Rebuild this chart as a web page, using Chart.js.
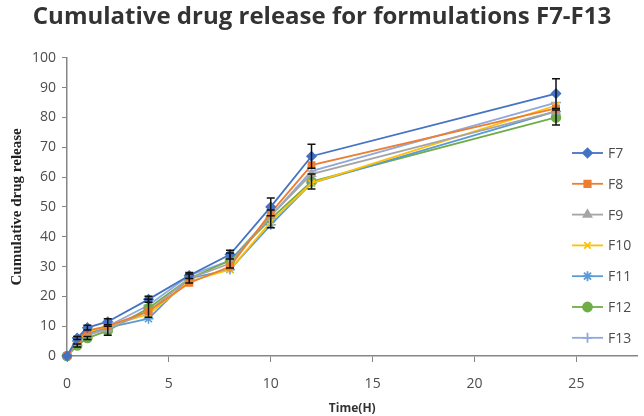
<!DOCTYPE html>
<html>
<head>
<meta charset="utf-8">
<script src="https://cdn.jsdelivr.net/npm/chart.js@4"></script>
<style>
  html, body { margin: 0; padding: 0; background: #fff; }
  #wrap { width: 644px; height: 416px; position: relative; }
</style>
</head>
<body>
<div id="wrap"><canvas id="chart"></canvas></div>
<script>
// Cumulative drug release, F7-F13.

const TIME = [0, 0.5, 1, 2, 4, 6, 8, 10, 12, 24];

const F7  = [0, 6,   9.5, 11.5, 19,   27,   34, 50, 67,   88];
const F8  = [0, 5.5, 8.5, 10,   15,   24.5, 30, 48, 64,   83];
const F9  = [0, 4.5, 7,   9,    15,   26,   31, 47, 61,   82];
const F10 = [0, 5,   8,   10,   14,   25,   29, 45, 58,   84];
const F11 = [0, 5,   7.5, 9.5,  12.5, 26,   29, 44, 58,   82];
const F12 = [0, 3.5, 6,   8.5,  16,   26,   32, 46, 58.5, 80];
const F13 = [0, 5,   8,   10,   17,   27,   32, 47, 62,   85];

// error bars (symmetric) shown on F7 and F12
const F7_ERR  = [0, 0.5, 0.8, 1,   1, 1,   1.5, 3, 4,   5];
const F12_ERR = [0, 0.5, 0.5, 1.5, 3, 1.5, 2.5, 3, 2.5, 2.5];

const Y_TICKS = [0, 10, 20, 30, 40, 50, 60, 70, 80, 90, 100];
const X_TICKS = [0, 5, 10, 15, 20, 25];

const SERIES = [
  { label: 'F7',  data: F7,  color: '#4472c4', style: 'rectRot',  r: 4.5, err: F7_ERR },
  { label: 'F8',  data: F8,  color: '#ed7d31', style: 'rect',     r: 4.5 },
  { label: 'F9',  data: F9,  color: '#a5a5a5', style: 'triangle', r: 4.5 },
  { label: 'F10', data: F10, color: '#ffc000', style: 'crossRot', r: 4.5 },
  { label: 'F11', data: F11, color: '#5b9bd5', style: 'star',     r: 5 },
  { label: 'F12', data: F12, color: '#70ad47', style: 'circle',   r: 4.5, err: F12_ERR },
  { label: 'F13', data: F13, color: '#8fa9dc', style: 'cross',    r: 5 },
];

const TEXT = '#4d4d4d';
const AXIS = '#868686';

// vertical error bars with caps, drawn through the scales
const errorBars = {
  id: 'errorBars',
  afterDatasetsDraw(chart) {
    const { ctx, scales: { x, y } } = chart;
    ctx.save();
    ctx.strokeStyle = '#111';
    ctx.lineWidth = 1.5;
    chart.data.datasets.forEach(ds => {
      if (!ds.errors) return;
      ds.data.forEach((p, i) => {
        const e = ds.errors[i];
        if (!e) return;
        const px = x.getPixelForValue(p.x);
        const top = y.getPixelForValue(p.y + e);
        const bot = y.getPixelForValue(p.y - e);
        ctx.beginPath();
        ctx.moveTo(px, top); ctx.lineTo(px, bot);
        ctx.moveTo(px - 4, top); ctx.lineTo(px + 4, top);
        ctx.moveTo(px - 4, bot); ctx.lineTo(px + 4, bot);
        ctx.stroke();
      });
    });
    ctx.restore();
  },
};

// legend floating inside the plot, bottom right, Excel style
const innerLegend = {
  id: 'innerLegend',
  afterDraw(chart) {
    const { ctx } = chart;
    ctx.save();
    ctx.font = '14px "Open Sans"';
    ctx.textBaseline = 'middle';
    chart.data.datasets.forEach((ds, i) => {
      const cy = 153 + i * 30.8;
      ctx.strokeStyle = ds.borderColor;
      ctx.lineWidth = 1.8;
      ctx.beginPath();
      ctx.moveTo(572, cy); ctx.lineTo(603, cy);
      ctx.stroke();
      ctx.fillStyle = ds.backgroundColor;
      Chart.helpers.drawPoint(ctx, {
        pointStyle: ds.pointStyle, radius: ds.pointRadius, borderWidth: 1.5,
      }, 587.5, cy);
      ctx.fillStyle = TEXT;
      ctx.fillText(ds.label, 608, cy + 1);
    });
    ctx.restore();
  },
};

new Chart(document.getElementById('chart'), {
  type: 'line',
  data: {
    datasets: SERIES.map(s => ({
      label: s.label,
      data: TIME.map((t, i) => ({ x: t, y: s.data[i] })),
      errors: s.err,
      borderColor: s.color,
      backgroundColor: s.color,
      pointBorderColor: s.color,
      pointBackgroundColor: s.color,
      pointStyle: s.style,
      pointRadius: s.r,
      pointBorderWidth: 1.5,
      borderWidth: 1.8,
      tension: 0,
      clip: false,
    })),
  },
  options: {
    responsive: true,
    maintainAspectRatio: false,
    animation: false,
    layout: { padding: { left: 0, right: 0, top: 0, bottom: 0 } },
    plugins: {
      legend: { display: false },
      tooltip: { enabled: false },
      title: {
        display: true,
        text: 'Cumulative drug release for formulations F7-F13',
        color: '#333',
        font: { family: '"Open Sans"', size: 24, weight: 'bold' },
        padding: { top: 3, bottom: 26 },
      },
    },
    scales: {
      x: {
        type: 'linear',
        min: 0,
        max: 28,
        afterBuildTicks: axis => { axis.ticks = X_TICKS.map(v => ({ value: v })); },
        afterFit: axis => { axis.height = 60; },
        grid: { drawOnChartArea: false, drawTicks: true, tickLength: 6, color: AXIS },
        border: { color: AXIS, width: 1.5 },
        ticks: { color: TEXT, font: { family: '"Open Sans"', size: 14 }, padding: 14, maxRotation: 0 },
        title: {
          display: true, text: 'Time(H)', color: '#333',
          font: { family: '"Open Sans"', size: 12, weight: 'bold' }, padding: { top: 0, bottom: 0 },
        },
      },
      y: {
        min: 0,
        max: 100,
        afterBuildTicks: axis => { axis.ticks = Y_TICKS.map(v => ({ value: v })); },
        afterFit: axis => { axis.width = 67; },
        grid: { drawOnChartArea: false, drawTicks: true, tickLength: 5, color: AXIS },
        border: { color: AXIS, width: 1.5 },
        ticks: { color: TEXT, font: { family: '"Open Sans"', size: 14 }, padding: 6 },
        title: {
          display: true, text: 'Cumulative drug release', color: '#222',
          font: { family: '"Liberation Serif"', size: 15, weight: 'bold' }, padding: { top: 8, bottom: 4 },
        },
      },
    },
  },
  plugins: [errorBars, innerLegend],
});
</script>
</body>
</html>
